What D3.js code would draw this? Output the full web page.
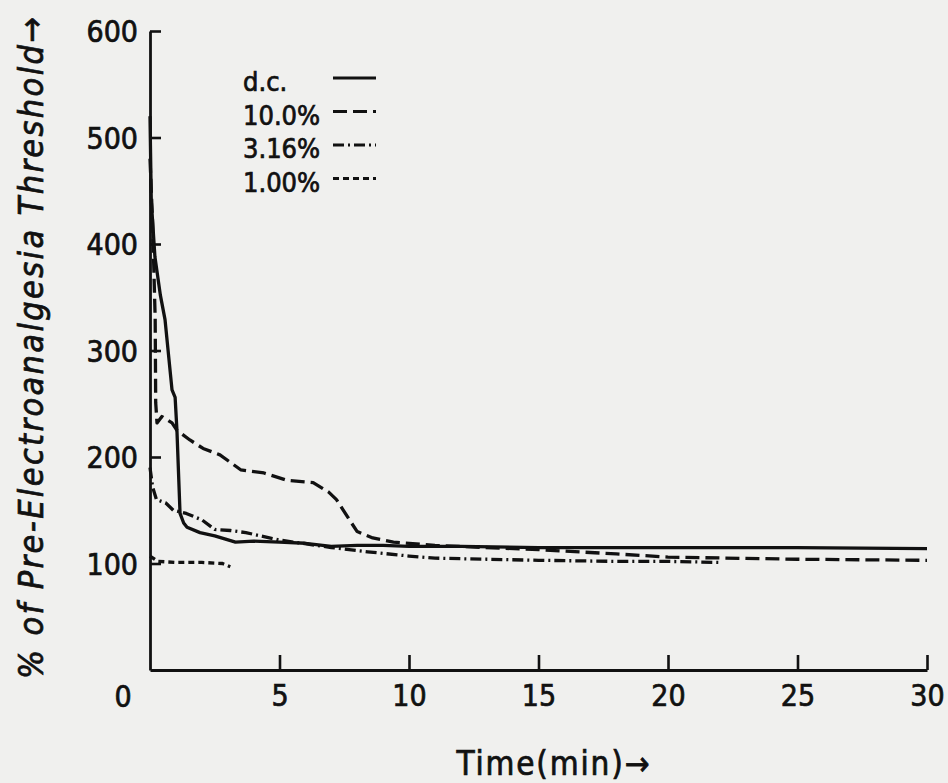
<!DOCTYPE html>
<html>
  <head>
    <meta charset="utf-8">
    <script src="https://d3js.org/d3.v7.min.js"></script>
    <style>
      body { margin: 0; background: #f0f0ee; }
      text { font-family: "DejaVu Sans Condensed", "DejaVu Sans", sans-serif; fill: #111; stroke: #111; stroke-width: 0.7px; }
    </style>
  </head>
  <body>
    <div id="plot"></div>
    <script>

    // data (time in min, % of pre-electroanalgesia threshold)
    const dcTime  = [0, 0.05, 0.19, 0.4, 0.58, 0.85, 0.97, 1.04, 1.16, 1.3, 1.43, 1.93, 2.5, 3.3, 4, 5, 6, 7, 8, 9, 10, 12, 15, 20, 25, 30];
    const dcValue = [520, 440, 388, 352, 329, 263, 256, 225, 147, 138, 134, 129, 126, 120, 121, 120, 119, 116, 117, 117, 116, 116, 115, 115, 115, 114];

    const p10Time  = [0, 0.1, 0.2, 0.22, 0.27, 0.46, 0.85, 1.04, 1.54, 2.05, 2.7, 3.5, 4.4, 5.3, 6.3, 6.9, 7.2, 7.7, 8.0, 8.6, 9.4, 11, 15, 18, 20, 25, 30];
    const p10Value = [480, 420, 330, 251, 232, 238, 232, 225, 216, 208, 202, 188, 185, 178, 176, 167, 160, 141, 130, 124, 120, 117, 113, 109, 106, 104, 103];

    const p316Time  = [0, 0.1, 0.25, 0.6, 0.9, 1.4, 2.0, 2.5, 3.1, 3.7, 5, 7, 8.4, 10, 11, 13, 15, 18, 20, 22];
    const p316Value = [190, 172, 160, 157, 150, 147, 141, 132, 131, 129, 122, 115, 111, 107, 105, 104, 103, 102, 102, 101];

    const p1Time  = [0, 0.3, 1, 2, 2.8, 3.1];
    const p1Value = [107, 102, 101, 101, 100, 97];

    const seriesNames = ["d.c.", "10.0%", "3.16%", "1.00%"];
    const xTicks = [5, 10, 15, 20, 25, 30];
    const yTicks = [100, 200, 300, 400, 500, 600];

    const series = [
      { name: seriesNames[0], t: dcTime, v: dcValue, dash: null },
      { name: seriesNames[1], t: p10Time, v: p10Value, dash: "14 6" },
      { name: seriesNames[2], t: p316Time, v: p316Value, dash: "11 4 2 4" },
      { name: seriesNames[3], t: p1Time, v: p1Value, dash: "6 4" }
    ];

    const W = 948, H = 783;
    const ink = "#111";

    let svg = d3.select("#plot")
      .append("svg")
        .attr("width", W)
        .attr("height", H);

    svg.append("rect").attr("width", W).attr("height", H).attr("fill", "#f0f0ee");

    const x = d3.scaleLinear().domain([0, 30]).range([150, 927]);
    const y = d3.scaleLinear().domain([0, 600]).range([670, 31]);

    // x axis, ticks pointing up into the plot
    const gx = svg.append("g")
      .attr("transform", "translate(0," + y(0) + ")")
      .call(d3.axisBottom(x).tickValues(xTicks).tickSizeInner(-15).tickSizeOuter(0).tickPadding(15));

    // y axis, ticks pointing right
    const gy = svg.append("g")
      .attr("transform", "translate(" + x(0) + ",0)")
      .call(d3.axisLeft(y).tickValues(yTicks).tickSizeInner(-11).tickSizeOuter(0).tickPadding(12));

    [gx, gy].forEach(function(g) {
      g.select(".domain").attr("stroke", ink).attr("stroke-width", 2.8);
      g.selectAll(".tick line").attr("stroke", ink).attr("stroke-width", 2.6);
      g.selectAll(".tick text")
        .style("font-size", "30px")
        .style("font-family", "'DejaVu Sans Condensed', sans-serif")
        .attr("fill", ink);
    });
    gx.selectAll(".tick text").attr("dy", "0.71em");
    gy.selectAll(".tick text").attr("dy", "0.36em");

    // shared origin label
    svg.append("text")
      .attr("x", 123).attr("y", 707)
      .attr("text-anchor", "middle")
      .style("font-size", "30px")
      .text("0");

    // the curves
    const line = d3.line()
      .x(function(d) { return x(d[0]); })
      .y(function(d) { return y(d[1]); });

    series.forEach(function(s) {
      const pts = s.t.map(function(t, i) { return [t, s.v[i]]; });
      svg.append("path")
        .datum(pts)
        .attr("d", line)
        .attr("fill", "none")
        .attr("stroke", ink)
        .attr("stroke-width", 3.3)
        .attr("stroke-linejoin", "round")
        .attr("stroke-dasharray", s.dash);
    });

    // legend
    const leg = svg.append("g");
    series.forEach(function(s, i) {
      const ly = 78 + i * 33.5;
      leg.append("text")
        .attr("x", 243).attr("y", ly + 13)
        .style("font-size", "27px")
        .text(s.name);
      leg.append("line")
        .attr("x1", 333).attr("x2", 376)
        .attr("y1", ly).attr("y2", ly)
        .attr("stroke", ink)
        .attr("stroke-width", 3.2)
        .attr("stroke-dasharray", s.dash);
    });

    // axis titles
    svg.append("text")
      .attr("transform", "translate(43,348) rotate(-90)")
      .attr("text-anchor", "middle")
      .style("font-size", "34px")
      .style("font-style", "italic")
      .attr("textLength", 662)
      .attr("lengthAdjust", "spacing")
      .text("% of Pre-Electroanalgesia Threshold\u2192");

    svg.append("text")
      .attr("x", 553).attr("y", 775)
      .attr("text-anchor", "middle")
      .style("font-size", "33px")
      .attr("textLength", 193)
      .attr("lengthAdjust", "spacing")
      .text("Time(min)\u2192");

    </script>
  </body>
</html>
